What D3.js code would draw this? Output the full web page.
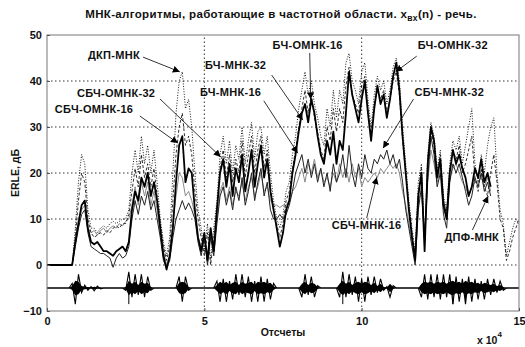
<!DOCTYPE html>
<html>
<head>
<meta charset="utf-8">
<script src="https://cdn.jsdelivr.net/npm/d3@7"></script>
<style>
  body { margin: 0; background: #fff; }
  svg { font-family: "Liberation Sans", Arial, sans-serif; font-weight: bold; }
</style>
</head>
<body>
<div id="chart"></div>
<script>
// sample positions, x 10^4 samples (one value every 0.1)
const sampleStep = 0.1;

const xTicks = [0, 5, 10, 15];
const yTicks = [-10, 0, 10, 20, 30, 40, 50];

// ДКП-МНК (dotted)
const dctLms = [
  0, 0, 0, 0, 0, 0, 0, 0, 0, 8,
  18, 24, 22, 12, 8, 8, 7, 8, 8.5, 8,
  9, 9.5, 9, 9.5, 10, 10, 12, 20, 25, 20,
  28, 22, 26, 20, 25, 18, 10, 5, 2, 6,
  20, 33, 40, 42, 34, 36, 30, 20, 12, 8,
  3, 9, 1, 8, 14, 24, 28, 22, 27, 20,
  26, 23, 30, 22, 27, 31, 23, 29, 30, 24,
  28, 20, 14, 10, 8, 11, 16, 18, 24, 28,
  34, 38, 42, 37, 40, 35, 32, 28, 26, 34,
  30, 38, 32, 38, 35, 44, 46, 40, 38, 35,
  42, 44, 36, 30, 37, 41, 38, 40, 35, 38,
  43, 45, 40, 30, 22, 14, 8, 3, 18, 22,
  5, 24, 31, 28, 21, 25, 15, 12, 22, 27,
  25, 28, 22, 26, 30, 34, 22, 18, 24, 20,
  26, 30, 32, 20, 12, 9, 2, 5, 8, 10,
  9
];

// ДПФ-МНК (dashed)
const dftLms = [
  0, 0, 0, 0, 0, 0, 0, 0, 0, 6,
  14, 20, 18, 10, 7, 6, 6.5, 7, 6.5, 7.5,
  7, 8, 8.5, 8, 9, 9, 11, 16, 21, 17,
  24, 19, 22, 17, 21, 15, 9, 4, 1, 4,
  14, 24, 30, 33, 26, 28, 24, 16, 10, 6,
  2, 7, 0, 6, 12, 21, 25, 19, 24, 18,
  23, 20, 27, 19, 24, 28, 20, 25, 28, 21,
  25, 17, 12, 9, 6, 9, 14, 16, 21, 25,
  30, 34, 38, 33, 37, 32, 29, 25, 23, 30,
  27, 34, 29, 34, 31, 39, 43, 37, 35, 33,
  39, 41, 34, 28, 35, 38, 36, 38, 33, 36,
  40, 42, 37, 27, 20, 13, 7, 2, 16, 21,
  4, 23, 29, 26, 20, 24, 14, 11, 21, 25,
  23, 26, 20, 22, 25, 28, 19, 16, 21, 17,
  15, 20, 24, 18, 10, 8, 1, 3, 6, 8,
  10
];

// БЧ-ОМНК-32 (thick black)
const bchOmnk32 = [
  0, 0, 0, 0, 0, 0, 0, 0, 0, 5,
  9, 13, 14, 8, 5, 4.5, 5, 4, 3, 3,
  2.5, 2, 3, 3.5, 4, 3, 5, 12, 16, 14,
  19, 17, 20, 15, 18, 14, 8, 2, -1, 2,
  8, 18, 26, 28, 18, 21, 20, 12, 6, 3,
  7, 1, 8, 3, 12, 20, 23, 17, 22, 15,
  21, 18, 24, 16, 20, 25, 17, 22, 26, 19,
  23, 16, 12, 8, 4, 7, 12, 14, 20, 24,
  29, 33, 35, 31, 36, 33, 28, 24, 22, 27,
  24, 29, 22, 27, 25, 33, 42, 37, 34, 31,
  36, 40, 33, 27, 34, 39, 35, 37, 32, 36,
  41, 44, 38, 28, 20, 12, 6, 1, 15, 20,
  3, 22, 30, 27, 19, 23, 13, 10, 20, 25,
  22, 24, 21, 19, 15, 17, 21, 19, 23, 18,
  20, 17
];

// СБЧ-ОМНК-16 (thin black)
const sbchOmnk16 = [
  0, 0, 0, 0, 0, 0, 0, 0, 0, 4,
  8, 11, 12, 7, 4, 3.5, 3, 2.5, 2.5, 2,
  1.5, -0.5, 1.5, 2.5, 1.5, 2, 4, 10, 14, 11,
  15, 13, 16, 12, 14, 10, 6, 1, -0.5, 1,
  6, 10, 12, 14, 12, 13.5, 12, 10, 5, 2,
  6, 0, 6, 2, 9, 15, 17, 13, 16, 12,
  17, 14, 19, 13, 16, 20, 14, 18, 21, 15,
  18, 12, 10, 10, 11, 10, 11, 13, 16, 20,
  22, 24, 20, 23, 19, 22, 18, 21, 17, 20,
  16, 22, 18, 20, 24, 19, 26, 20, 17, 22,
  19, 24, 21, 20, 23, 22, 24, 23, 25, 22,
  24, 21, 23, 18, 12, 8, 4, 0, 12, 17,
  5, 19, 28, 24, 17, 20, 11, 8, 18, 22,
  20, 22, 19, 16, 13, 15, 19, 17, 20, 16,
  18, 15
];

// СБЧ-МНК-16 (grey)
const sbchMnk16 = [
  0, 0, 0, 0, 0, 0, 0, 0, 0, 5,
  10, 12, 13, 8, 7, 7.5, 6.5, 7.5, 8, 7,
  8, 8.5, 8, 9, 8.5, 9.5, 10, 13, 17, 13,
  18, 15, 18, 13, 16, 12, 7, 3, 0, 2,
  9, 15, 20, 19, 15, 16, 14, 11, 6, 4,
  7, 1, 7, 3, 10, 16, 18, 14, 17, 13,
  16, 15, 18, 14, 17, 19, 15, 17, 20, 16,
  17, 14, 13, 13, 12.5, 13, 13, 14, 16, 17,
  19, 21, 18, 22, 20, 23, 19, 21, 18, 19,
  17, 20, 18, 22, 19, 21, 18, 22, 19, 21,
  17, 19, 18, 19, 20, 19, 21, 20, 21, 22,
  21, 22, 20, 16, 13, 9, 5, 2, 14, 16,
  6, 18, 25, 22, 18, 21, 14, 11, 19, 21,
  22, 20, 18, 17, 15, 17, 18, 18, 19, 17,
  19, 16
];

// входной речевой сигнал: огибающая вокруг -5 дБ
const speechLevel = -5;
const speechAmp = [
  0, 0, 0, 0, 0, 0, 0, 0, 1, 3.5,
  3, 1, 0.6, 0.5, 0.3, 0.6, 0.4, 0.2, 0, 0,
  0, 0, 0, 0, 0, 0.5, 3.5, 2, 3, 1.5,
  3, 2, 2.5, 0.5, 0, 0, 0, 0, 0, 0,
  0, 0, 2.5, 3, 2.5, 0.5, 0, 0, 0, 0,
  0, 0, 0, 0, 1.5, 3, 2, 3, 1.5, 2.5,
  3, 1.5, 3, 2, 2.5, 3, 1.5, 3, 2.5, 3,
  2, 2.5, 1, 0, 0, 0, 0, 0, 0, 0,
  0, 2, 3, 1.5, 2.5, 2, 0.5, 0, 0, 0,
  0, 0, 0, 2, 3.5, 2, 3, 1.5, 2.5, 3,
  2, 3, 2.5, 1.5, 2.5, 1, 2, 0.5, 0.3, 2,
  0.5, 0, 0, 0, 0, 0, 0, 0, 0, 2,
  3, 2.5, 3, 2, 3, 2.5, 3, 2, 3, 3.5,
  2.5, 3, 2, 3.5, 2.5, 3, 2, 2.5, 1.5, 2.5,
  2, 1.5, 2, 1, 1.5, 0.5, 0, 0, 0, 0,
  0
];
const speechSpikes = [[2.6, -8.5], [9.4, -8.5], [12.9, -8.5], [13.3, -8]];

// подписи: [текст, x текста, y текста, x начала стрелки, y начала, x острия, y острия]
const labels = [
  ["ДКП-МНК", 1.3, 44.8, 3.05, 45.2, 4.22, 42],
  ["СБЧ-ОМНК-32", 0.95, 36.5, 3.59, 36.1, 5.52, 23.5],
  ["СБЧ-ОМНК-16", 0.25, 33, 2.95, 32.4, 4.16, 26.5],
  ["БЧ-МНК-32", 5.02, 42.6, 7.14, 41.3, 8.13, 31.5],
  ["БЧ-МНК-16", 4.86, 36.7, 6.89, 35.7, 7.97, 24.3],
  ["БЧ-ОМНК-16", 7.17, 47, 8.35, 46.1, 8.38, 36],
  ["БЧ-ОМНК-32", 11.78, 47, 11.75, 45.4, 11.08, 42],
  ["СБЧ-МНК-32", 11.68, 36.7, 11.65, 36.1, 10.68, 25.4],
  ["СБЧ-МНК-16", 9.05, 7.8, 10.16, 10.2, 10.48, 19.1],
  ["ДПФ-МНК", 12.63, 5.2, 13.52, 7.6, 14.02, 15]
];

const width = 525, height = 347;
const margin = { top: 35, right: 6, bottom: 36, left: 47 };

const svg = d3.select("#chart").append("svg")
  .attr("width", width)
  .attr("height", height);

const x = d3.scaleLinear().domain([0, 15]).range([margin.left, width - margin.right]);
const y = d3.scaleLinear().domain([-10, 50]).range([height - margin.bottom, margin.top]);

svg.append("defs").append("clipPath").attr("id", "plot")
  .append("rect")
  .attr("x", x(0)).attr("y", y(50))
  .attr("width", x(15) - x(0)).attr("height", y(-10) - y(50));

svg.select("defs").append("marker")
  .attr("id", "head")
  .attr("viewBox", "0 0 10 10")
  .attr("refX", 10).attr("refY", 5)
  .attr("markerWidth", 7).attr("markerHeight", 7)
  .attr("markerUnits", "userSpaceOnUse")
  .attr("orient", "auto")
  .append("path")
  .attr("d", "M0,0L10,5L0,10z")
  .attr("fill", "#000");

// grid
const grid = svg.append("g");
grid.selectAll("line.gy")
  .data(yTicks.filter(d => d > -10 && d < 50))
  .join("line")
    .attr("x1", x(0)).attr("x2", x(15))
    .attr("y1", d => y(d)).attr("y2", d => y(d))
    .attr("stroke", "#000").attr("stroke-width", 0.8)
    .attr("stroke-dasharray", "1.5,2.5");
grid.selectAll("line.gx")
  .data(xTicks.filter(d => d > 0 && d < 15))
  .join("line")
    .attr("x1", d => x(d)).attr("x2", d => x(d))
    .attr("y1", y(-10)).attr("y2", y(50))
    .attr("stroke", "#000").attr("stroke-width", 0.8)
    .attr("stroke-dasharray", "1.5,2.5");

const plot = svg.append("g").attr("clip-path", "url(#plot)");

const line = d3.line()
  .x((d, i) => x(i * sampleStep))
  .y(d => y(d));

// speech signal: thin core + zigzag waveform over the envelope
plot.append("line")
  .attr("x1", x(0)).attr("x2", x(15))
  .attr("y1", y(speechLevel)).attr("y2", y(speechLevel))
  .attr("stroke", "#000").attr("stroke-width", 1.2);
plot.append("path")
  .datum(speechAmp)
  .attr("d", d3.area()
    .x((d, i) => x(i * sampleStep))
    .y0(d => y(speechLevel - d * 0.45))
    .y1(d => y(speechLevel + d * 0.45)))
  .attr("fill", "#000");
plot.append("path")
  .datum(speechAmp)
  .attr("d", d3.line()
    .x((d, i) => x(i * sampleStep))
    .y((d, i) => y(speechLevel + (i % 2 ? -d : d))))
  .attr("fill", "none")
  .attr("stroke", "#000")
  .attr("stroke-width", 1.1);
plot.selectAll("line.spike")
  .data(speechSpikes)
  .join("line")
    .attr("x1", d => x(d[0])).attr("x2", d => x(d[0]))
    .attr("y1", y(speechLevel)).attr("y2", d => y(d[1]))
    .attr("stroke", "#000").attr("stroke-width", 1);

const series = [
  { data: sbchMnk16, color: "#8a8a8a", w: 1, dash: null },
  { data: dftLms, color: "#000", w: 0.8, dash: "3,2" },
  { data: dctLms, color: "#000", w: 0.9, dash: "1,1.6" },
  { data: sbchOmnk16, color: "#222", w: 1, dash: null },
  { data: bchOmnk32, color: "#000", w: 1.8, dash: null }
];

plot.selectAll("path.erle")
  .data(series)
  .join("path")
    .attr("class", "erle")
    .attr("d", d => line(d.data))
    .attr("fill", "none")
    .attr("stroke", d => d.color)
    .attr("stroke-width", d => d.w)
    .attr("stroke-dasharray", d => d.dash)
    .attr("stroke-linejoin", "round");

// frame
svg.append("rect")
  .attr("x", x(0)).attr("y", y(50))
  .attr("width", x(15) - x(0)).attr("height", y(-10) - y(50))
  .attr("fill", "none").attr("stroke", "#777").attr("stroke-width", 1);

// axes
const yAxis = svg.append("g")
  .attr("transform", `translate(${x(0)},0)`)
  .call(d3.axisLeft(y).tickValues(yTicks).tickSizeInner(-3).tickSizeOuter(0).tickPadding(5));
const xAxis = svg.append("g")
  .attr("transform", `translate(0,${y(-10)})`)
  .call(d3.axisBottom(x).tickValues(xTicks).tickSizeInner(-3).tickSizeOuter(0).tickPadding(6));
[yAxis, xAxis].forEach(g => {
  g.select(".domain").remove();
  g.selectAll(".tick line").attr("stroke", "#555");
  g.selectAll("text")
    .attr("font-family", "\"Liberation Sans\", Arial, sans-serif")
    .attr("font-weight", "bold")
    .attr("font-size", 11)
    .attr("fill", "#111");
});

// title
const title = svg.append("text")
  .attr("x", 281).attr("y", 18)
  .attr("text-anchor", "middle")
  .attr("font-size", 11.5)
  .attr("letter-spacing", 0.35)
  .attr("fill", "#111");
title.append("tspan").text("МНК-алгоритмы, работающие в частотной области. x");
title.append("tspan").attr("dy", 3).attr("font-size", 8.5).text("вх");
title.append("tspan").attr("dy", -3).text("(n) - речь.");

svg.append("text")
  .attr("transform", `translate(19,${y(20)}) rotate(-90)`)
  .attr("text-anchor", "middle")
  .attr("font-size", 10.5)
  .attr("fill", "#111")
  .text("ERLE, дБ");

svg.append("text")
  .attr("x", 283).attr("y", 336)
  .attr("text-anchor", "middle")
  .attr("font-size", 10.5)
  .attr("fill", "#111")
  .text("Отсчеты");

const exp = svg.append("text")
  .attr("x", 477).attr("y", 344)
  .attr("font-size", 10.5)
  .attr("fill", "#111");
exp.append("tspan").text("x 10");
exp.append("tspan").attr("dy", -7).attr("font-size", 8).text("4");

// annotations
const notes = svg.append("g");
notes.selectAll("line")
  .data(labels)
  .join("line")
    .attr("x1", d => x(d[3])).attr("y1", d => y(d[4]))
    .attr("x2", d => x(d[5])).attr("y2", d => y(d[6]))
    .attr("stroke", "#000").attr("stroke-width", 0.8)
    .attr("marker-end", "url(#head)");
notes.selectAll("text")
  .data(labels)
  .join("text")
    .attr("x", d => x(d[1])).attr("y", d => y(d[2]))
    .attr("font-size", 11)
    .attr("letter-spacing", 0.3)
    .attr("fill", "#111")
    .text(d => d[0]);
</script>
</body>
</html>
